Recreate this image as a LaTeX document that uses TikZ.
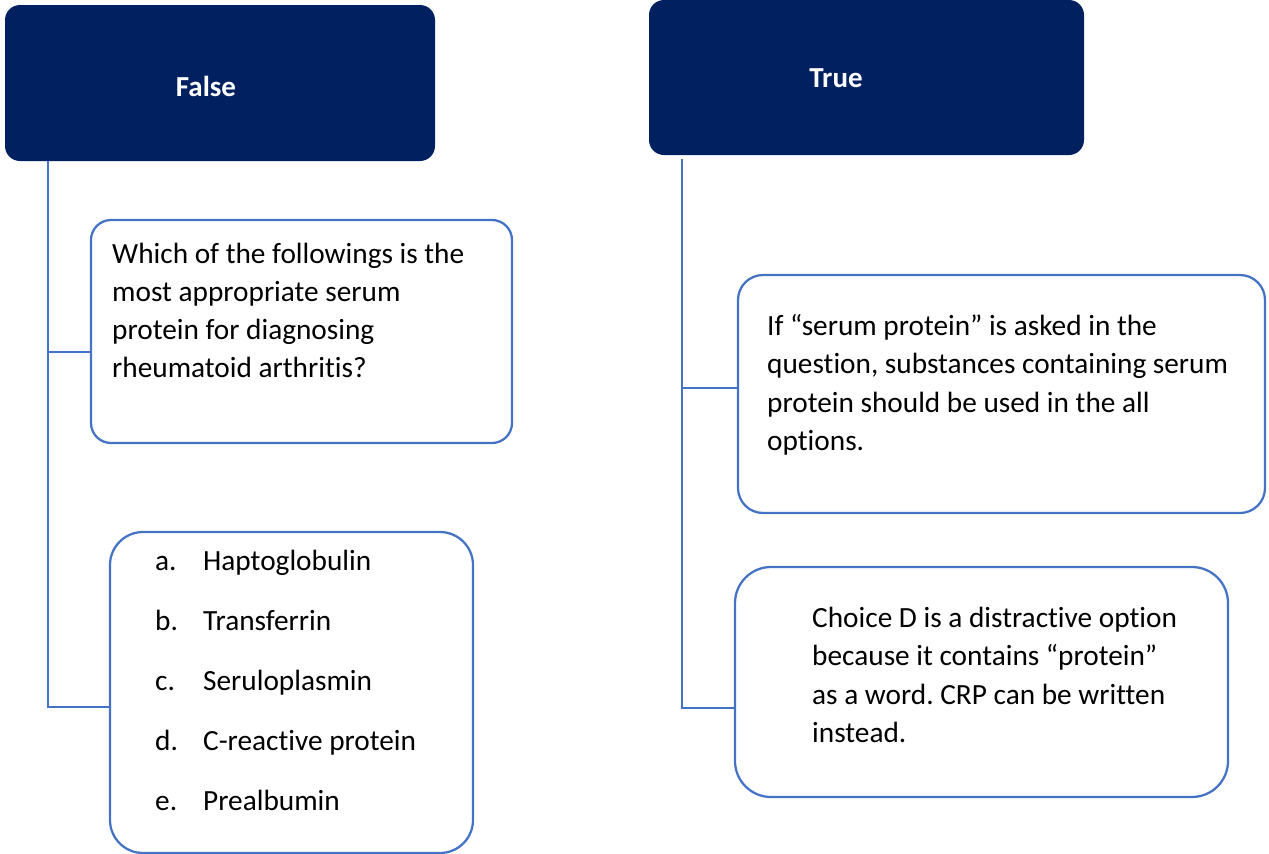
\documentclass[tikz,border=0pt]{standalone}
\usepackage{fontspec}
\setmainfont{Carlito}[Ligatures={NoCommon}]
\frenchspacing
\definecolor{navy}{HTML}{002060}
\definecolor{accent}{HTML}{4472C4}
\tikzset{
  header/.style={fill=navy, draw=none, rounded corners=15pt, inner sep=0pt},
  card/.style={draw=accent, line width=2.25pt, fill=white, inner sep=0pt},
  conn/.style={draw=accent, line width=2pt},
  htext/.style={text=white, font=\fontsize{29}{34}\selectfont\bfseries, anchor=base, inner sep=0pt},
  btext/.style={text=black, anchor=base west, inner sep=0pt, align=flush left},
}
\begin{document}
\begin{tikzpicture}[x=1pt,y=-1pt]
\useasboundingbox (0,0) rectangle (1269,854);
% headers
\node[header, minimum width=430pt, minimum height=156pt] (false) at (220,83) {};
\node[header, minimum width=435pt, minimum height=155pt] (true) at (866.5,77.5) {};
\node[htext] (falset) at (206,96) {False};
\node[htext] (truet) at (836,87) {True};
% left cards
\node[card, rounded corners=20pt, minimum width=421pt, minimum height=223pt] (q) at (301.5,331.5) {};
\node[card, rounded corners=33pt, minimum width=363pt, minimum height=321pt] (opts) at (291.5,692.5) {};
% right cards
\node[card, rounded corners=25pt, minimum width=527pt, minimum height=238pt] (hint) at (1001.5,394) {};
\node[card, rounded corners=36pt, minimum width=493pt, minimum height=230pt] (why) at (981.5,682) {};
% texts
\node[btext, text width=400pt, font=\fontsize{29.3}{38.2}\selectfont] (qt) at (112,263)
  {Which of the followings is the\\most appropriate serum\\protein for diagnosing\\rheumatoid arthritis?};
\node[btext, text width=340pt, font=\fontsize{29.3}{60}\selectfont] (optst) at (155,570)
  {\makebox[48pt][l]{a.}Haptoglobulin\\\makebox[48pt][l]{b.}Transferrin\\\makebox[48pt][l]{c.}Seruloplasmin\\\makebox[48pt][l]{d.}C-reactive protein\\\makebox[48pt][l]{e.}Prealbumin};
\node[btext, text width=495pt, font=\fontsize{29.3}{38.5}\selectfont] (hintt) at (767,335)
  {If “serum protein” is asked in the\\question, substances containing serum\\protein should be used in the all\\options.};
\node[btext, text width=410pt, font=\fontsize{29.3}{38.5}\selectfont] (whyt) at (812,627)
  {Choice D is a distractive option\\because it contains “protein”\\as a word. CRP can be written\\instead.};
% connectors
\coordinate (lt) at (48,161);
\coordinate (rt) at (682,159);
\draw[conn] (lt) |- ([yshift=-14.5pt]opts.west);
\draw[conn] ([yshift=-20.5pt]q.west) -| (lt);
\draw[conn] (rt) |- ([yshift=-26pt]why.west);
\draw[conn] ([yshift=6pt]hint.west) -| (rt);
\end{tikzpicture}
\end{document}
